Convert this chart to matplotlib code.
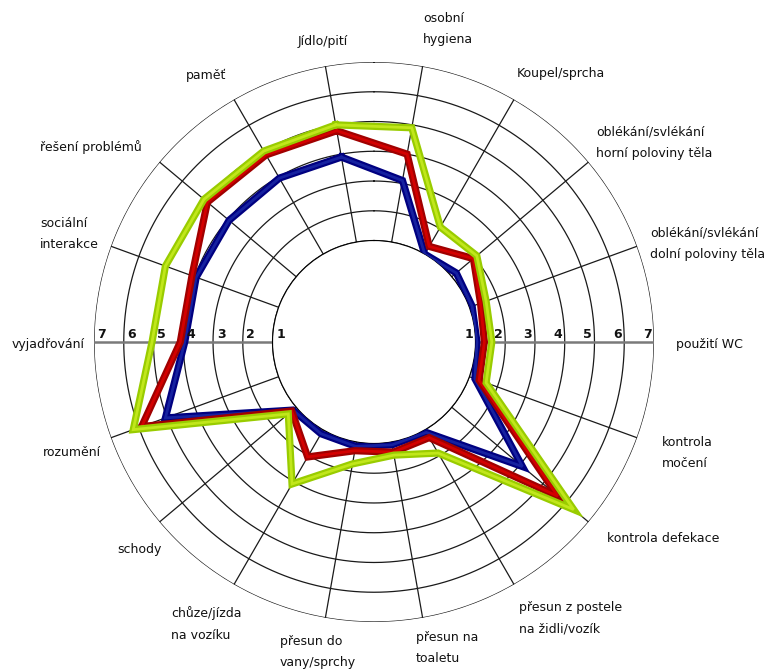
import numpy as np
import matplotlib
matplotlib.use("Agg")
import matplotlib.pyplot as plt

categories = [
    "Jídlo/pití", "osobní\nhygiena", "Koupel/sprcha",
    "oblékání/svlékání\nhorní poloviny těla", "oblékání/svlékání\ndolní poloviny těla",
    "použití WC", "kontrola\nmočení", "kontrola defekace",
    "přesun z postele\nna židli/vozík", "přesun na\ntoaletu", "přesun do\nvany/sprchy",
    "chůze/jízda\nna vozíku", "schody", "rozumění", "vyjadřování",
    "sociální\ninterakce", "řešení problémů", "paměť",
]
series_blue = [3.9, 3.1, 1.0, 1.2, 1.1, 1.05, 1.2, 4.1, 1.1, 1.1, 1.15, 1.15, 1.15, 5.05, 3.95, 3.95, 3.95, 3.95]
series_red = [4.8, 4.0, 1.3, 1.95, 1.4, 1.3, 1.35, 5.65, 1.3, 1.35, 1.3, 2.05, 1.2, 5.9, 4.1, 4.1, 4.9, 4.85]
series_green = [5.0, 4.9, 2.05, 2.1, 1.6, 1.55, 1.6, 6.35, 1.9, 1.45, 1.75, 3.1, 1.35, 6.2, 5.05, 5.05, 5.05, 5.0]
tick_values = [1, 2, 3, 4, 5, 6, 7]

# label layout (pixel left x, pixel centre y)
label_pos = [
    (298, 42), (423, 29), (517, 73), (596, 143), (650, 244), (676, 345),
    (662, 453), (607, 538), (519, 618), (416, 648), (280, 652), (171, 624),
    (117, 550), (43, 452), (12, 345), (40, 234), (40, 147), (186, 75),
]

W, H = 776, 672
fig = plt.figure(figsize=(W / 100, H / 100), dpi=100)
fig.patch.set_facecolor("white")
cx, cy, R = 374, 342, 280
ax = fig.add_axes([(cx - R) / W, (H - cy - R) / H, 2 * R / W, 2 * R / H], polar=True)
ax.set_theta_zero_location("N")
ax.set_theta_direction(-1)
ax.set_ylim(1, 7)
ax.set_rorigin(-2.41)
ax.set_xticks([])
ax.set_yticks([])
ax.grid(False)
for s in ax.spines.values():
    s.set_visible(False)
ax.patch.set_alpha(0)

n = len(categories)
angles = np.deg2rad(-10 + 20 * np.arange(n))

# rings
th = np.linspace(0, 2 * np.pi, 721)
for v in tick_values:
    ax.plot(th, np.full_like(th, v), color="#1a1a1a", lw=0.9, zorder=1)
# spokes
for a in angles:
    deg = np.rad2deg(a) % 360
    if abs(deg - 90) < 1 or abs(deg - 270) < 1:
        ax.plot([a, a], [1, 7], color="#7a7a7a", lw=1.8, zorder=1.5)
    else:
        ax.plot([a, a], [1, 7], color="#1a1a1a", lw=0.9, zorder=1)

def draw(vals, dark, light, z):
    a = np.append(angles, angles[0])
    v = np.append(vals, vals[0])
    ax.plot(a, v, color=dark, lw=5.2, solid_joinstyle="miter", zorder=z)
    ax.plot(a, v, color=light, lw=2.0, solid_joinstyle="miter", alpha=0.8, zorder=z + 0.1)

draw(series_blue, "#000080", "#1c2aa8", 3)
draw(series_red, "#a00000", "#e00000", 4)
draw(series_green, "#99cc00", "#ccee22", 5)

# tick numbers along horizontal axis
for v in tick_values:
    ax.annotate(str(v), xy=(np.pi / 2, v), xytext=(-7, 8), textcoords="offset pixels",
                ha="center", va="center", fontsize=9, fontweight="bold", color="#111111",
                zorder=6, annotation_clip=False)
    ax.annotate(str(v), xy=(3 * np.pi / 2, v), xytext=(8, 8), textcoords="offset pixels",
                ha="center", va="center", fontsize=9, fontweight="bold", color="#111111",
                zorder=6, annotation_clip=False)

for lab, (x, y) in zip(categories, label_pos):
    fig.text(x / W, 1 - y / H, lab, ha="left", va="center", fontsize=9,
             linespacing=1.85, color="#111111", family="DejaVu Sans")

fig.savefig("out.png", dpi=100, facecolor="white")
